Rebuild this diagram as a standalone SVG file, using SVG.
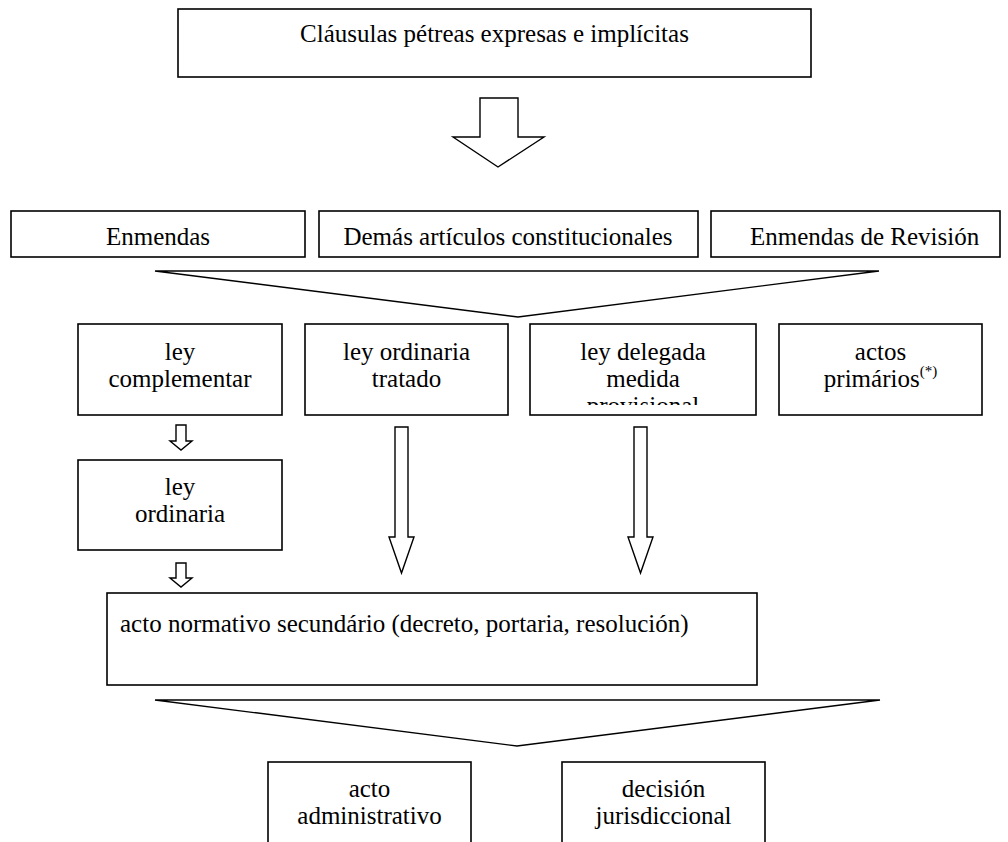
<svg xmlns="http://www.w3.org/2000/svg" width="1008" height="842" viewBox="0 0 1008 842">
<defs>
<style>
.box{fill:#fff;stroke:#000;stroke-width:1.6}
.arr{fill:#fff;stroke:#000;stroke-width:1.4;stroke-linejoin:miter}
.t{font-family:"Liberation Serif","Times New Roman",serif;font-size:25px;fill:#000}
.m{text-anchor:middle}
</style>
<clipPath id="clipDel"><rect x="530" y="324" width="226" height="81"/></clipPath>
</defs>
<rect width="1008" height="842" fill="#fff"/>
<g id="connectors">
<polygon class="arr" points="480,98 518,98 518,137 544,137 498,167 453,137 480,137"/>
<polygon class="arr" points="155,271 879,271 518,317"/>
<polygon class="arr" points="176,425 186,425 186,441 192,441 181,450 170,441 176,441"/>
<polygon class="arr" points="176,563 186,563 186,578 192,578 181,587 170,578 176,578"/>
<polygon class="arr" points="395,427 408,427 408,537 414,537 401.5,573 389,537 395,537"/>
<polygon class="arr" points="634,427 647,427 647,537 653,537 640.5,573 628,537 634,537"/>
<polygon class="arr" points="155,700 880,700 517,746"/>
</g>
<g id="clausulas">
<rect class="box" x="178" y="9" width="633" height="68"/>
<text class="t m" x="494.5" y="42">Cláusulas pétreas expresas e implícitas</text>
</g>
<g id="enmendas">
<rect class="box" x="11" y="211" width="294" height="46"/>
<text class="t m" x="158" y="245">Enmendas</text>
</g>
<g id="demas">
<rect class="box" x="319" y="211" width="379" height="46"/>
<text class="t m" x="508" y="245">Demás artículos constitucionales</text>
</g>
<g id="revision">
<rect class="box" x="711" y="211" width="289" height="46"/>
<text class="t" x="750" y="245">Enmendas de Revisión</text>
</g>
<g id="complementar">
<rect class="box" x="78" y="324" width="204" height="91"/>
<text class="t m" x="180" y="360">ley</text>
<text class="t m" x="180" y="387">complementar</text>
</g>
<g id="ordinaria-tratado">
<rect class="box" x="305" y="324" width="203" height="91"/>
<text class="t m" x="406.5" y="360">ley ordinaria</text>
<text class="t m" x="406.5" y="387">tratado</text>
</g>
<g id="delegada">
<rect class="box" x="530" y="324" width="226" height="91"/>
<g clip-path="url(#clipDel)">
<text class="t m" x="643" y="360">ley delegada</text>
<text class="t m" x="643" y="387">medida</text>
<text class="t m" x="643" y="414">provisional</text>
</g>
</g>
<g id="primarios">
<rect class="box" x="779" y="324" width="203" height="91"/>
<text class="t m" x="880.5" y="360">actos</text>
<text class="t m" x="880.5" y="387">primários<tspan font-size="15" dy="-11">(*)</tspan></text>
</g>
<g id="ordinaria">
<rect class="box" x="78" y="460" width="204" height="90"/>
<text class="t m" x="180" y="495">ley</text>
<text class="t m" x="180" y="522">ordinaria</text>
</g>
<g id="secundario">
<rect class="box" x="107" y="593" width="650" height="92"/>
<text class="t" x="120" y="632">acto normativo secundário (decreto, portaria, resolución)</text>
</g>
<g id="administrativo">
<rect class="box" x="268" y="762" width="203" height="100"/>
<text class="t m" x="369.5" y="797">acto</text>
<text class="t m" x="369.5" y="824">administrativo</text>
</g>
<g id="jurisdiccional">
<rect class="box" x="562" y="762" width="203" height="100"/>
<text class="t m" x="663.5" y="797">decisión</text>
<text class="t m" x="663.5" y="824">jurisdiccional</text>
</g>
</svg>
